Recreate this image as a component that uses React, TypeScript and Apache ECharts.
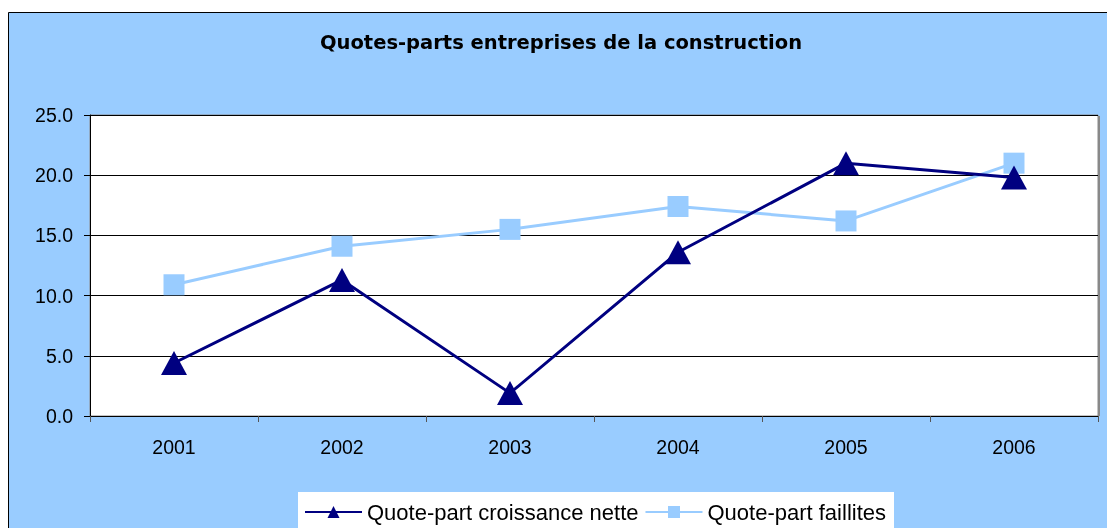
import React, { useEffect, useRef } from "react";
import * as echarts from "echarts";

const categories = ["2001", "2002", "2003", "2004", "2005", "2006"];
const croissanceNette = [4.4, 11.3, 1.9, 13.6, 21.0, 19.8];
const faillites = [10.9, 14.1, 15.5, 17.4, 16.2, 21.0];
const titleText = "Quotes-parts entreprises de la construction";
const seriesNames = ["Quote-part croissance nette", "Quote-part faillites"];

const FONT = "'Liberation Sans', Arial, sans-serif";

export default function App() {
  const ref = useRef<HTMLDivElement>(null);
  useEffect(() => {
    if (!ref.current) return;
    const chart = echarts.init(ref.current, undefined, { renderer: "svg" });
    chart.setOption({
      animation: false,
      backgroundColor: "transparent",
      textStyle: { fontFamily: FONT },
      graphic: [
        {
          type: "rect",
          z: -10,
          silent: true,
          shape: { x: 0.5, y: 0.5, width: 1200, height: 600 },
          style: { fill: "#99CCFF", stroke: "#000", lineWidth: 1 },
        },
        {
          type: "rect",
          z: -5,
          silent: true,
          shape: { x: 1090, y: 104, width: 2, height: 300 },
          style: { fill: "#888" },
        },
      ],
      title: {
        text: titleText,
        left: 312,
        top: 20,
        padding: 0,
        textStyle: { fontFamily: "'DejaVu Sans', sans-serif", fontSize: 19.5, fontWeight: "bold", color: "#000" },
      },
      legend: {
        left: 290,
        top: 480,
        itemWidth: 57,
        itemHeight: 15,
        itemGap: 6,
        padding: [9, 8, 14, 6],
        backgroundColor: "#fff",
        borderWidth: 0,
        textStyle: { fontFamily: FONT, fontSize: 22, color: "#000" },
        data: seriesNames,
      },
      grid: {
        left: 82,
        top: 103,
        width: 1008,
        height: 301,
        show: true,
        backgroundColor: "#fff",
        borderColor: "#888",
        borderWidth: 1,
        containLabel: false,
      },
      xAxis: {
        type: "category",
        data: categories,
        boundaryGap: true,
        axisLine: { show: true, lineStyle: { color: "#000", width: 1 } },
        axisTick: { show: true, length: 6, inside: false, alignWithLabel: false, lineStyle: { color: "#555" } },
        axisLabel: { fontFamily: FONT, fontSize: 19.5, color: "#000", margin: 21 },
        splitLine: { show: false },
      },
      yAxis: {
        type: "value",
        min: 0,
        max: 25,
        interval: 5,
        axisLine: { show: true, lineStyle: { color: "#000", width: 1 } },
        axisTick: { show: true, length: 6, lineStyle: { color: "#000" } },
        axisLabel: {
          fontFamily: FONT,
          fontSize: 19.5,
          color: "#000",
          margin: 17,
          formatter: (v: number) => v.toFixed(1),
        },
        splitLine: { show: true, lineStyle: { color: "#000", width: 1 } },
      },
      series: [
        {
          name: seriesNames[0],
          type: "line",
          data: croissanceNette,
          symbol: "triangle",
          symbolSize: [26, 24],
          showAllSymbol: true,
          lineStyle: { color: "#000080", width: 3 },
          itemStyle: { color: "#000080" },
          z: 3,
        },
        {
          name: seriesNames[1],
          type: "line",
          data: faillites,
          symbol: "rect",
          symbolSize: 21,
          showAllSymbol: true,
          lineStyle: { color: "#99CCFF", width: 3 },
          itemStyle: { color: "#99CCFF" },
          z: 2,
        },
      ],
    });
    return () => chart.dispose();
  }, []);
  return (
    <div
      ref={ref}
      style={{ position: "fixed", left: 8, top: 12, width: 1099, height: 516 }}
    />
  );
}
